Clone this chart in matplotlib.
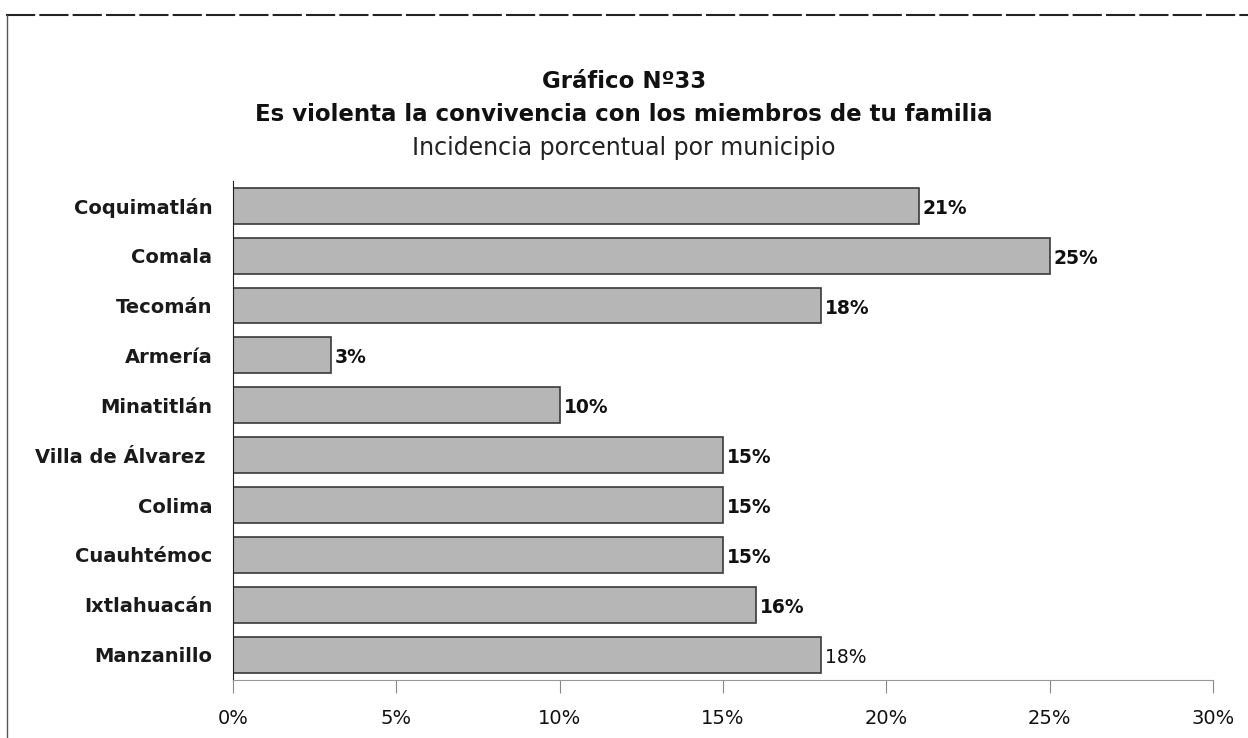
import matplotlib.pyplot as plt
from matplotlib.lines import Line2D

plt.rcParams['font.family'] = ['DejaVu Sans']

municipios = ['Coquimatlán', 'Comala', 'Tecomán', 'Armería', 'Minatitlán',
              'Villa de Álvarez ', 'Colima', 'Cuauhtémoc', 'Ixtlahuacán', 'Manzanillo']
valores = [21, 25, 18, 3, 10, 15, 15, 15, 16, 18]
etiquetas = ['21%', '25%', '18%', '3%', '10%', '15%', '15%', '15%', '16%', '18%']
negrita = [True, True, True, True, True, True, True, True, True, False]
xticks = [0, 5, 10, 15, 20, 25, 30]

fig = plt.figure(figsize=(12.48, 7.38), dpi=100)
ax = fig.add_axes([0.1867, 0.079, 0.7853, 0.676])

y = list(range(len(municipios)))
ax.barh(y, valores, height=0.72, color='#b6b6b6', edgecolor='#3a3a3a', linewidth=1.2)
ax.set_ylim(len(municipios) - 0.5, -0.5)
ax.set_xlim(0, 30)

for yi, v, lab, b in zip(y, valores, etiquetas, negrita):
    ax.text(v + 0.12, yi + 0.05, lab, va='center', ha='left', fontsize=13.5,
            fontweight='bold' if b else 'normal', color='#111111')

ax.set_yticks(y)
ax.set_yticklabels(municipios, fontsize=14, fontweight='semibold', color='#1a1a1a')
ax.tick_params(axis='y', length=0, pad=15)
ax.set_xticks(xticks)
ax.set_xticklabels([f'{t}%' for t in xticks], fontsize=14, color='#111111')
ax.tick_params(axis='x', direction='out', length=9, width=0.8, color='#888888', pad=12)

for s in ['top', 'right']:
    ax.spines[s].set_visible(False)
ax.spines['left'].set_color('#222222')
ax.spines['bottom'].set_color('#999999')

fig.text(0.5, 0.890, 'Gráfico Nº33', ha='center', va='center', fontsize=16.5, fontweight='bold', color='#111111')
fig.text(0.5, 0.845, 'Es violenta la convivencia con los miembros de tu familia', ha='center',
         va='center', fontsize=16.5, fontweight='bold', color='#111111')
fig.text(0.5, 0.800, 'Incidencia porcentual por municipio', ha='center', va='center',
         fontsize=17, color='#222222')

# marco exterior del gráfico
fig.add_artist(Line2D([0.005, 1.0], [0.98, 0.98], color='#222222', lw=1.5, linestyle=(0, (14, 2))))
fig.add_artist(Line2D([0.0055, 0.0055], [0.0, 0.98], color='#555555', lw=1.0))

fig.savefig('out.png', dpi=100)
